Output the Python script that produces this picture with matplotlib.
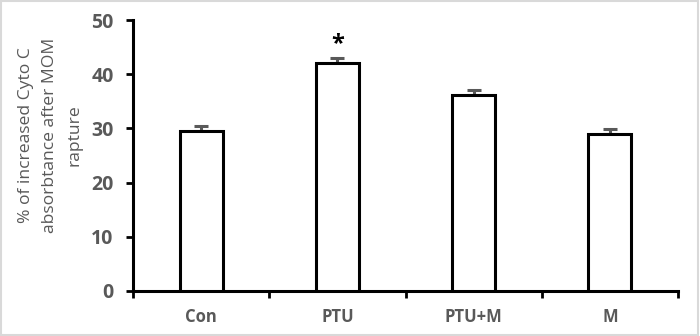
import numpy as np
import matplotlib
matplotlib.use("Agg")
import matplotlib.pyplot as plt
from matplotlib.patches import Rectangle

# =================================
# DATA
# =================================

groups = ["Con", "PTU", "PTU+M", "M"]
means = [29.5, 42.1, 36.1, 29.0]
errors = [1.0, 0.9, 0.9, 0.9]
stars = ["", "*", "", ""]

# =================================
# STYLE
# =================================

plt.rcParams["font.family"] = ["Open Sans", "DejaVu Sans"]
grey = "#595959"

fig = plt.figure(figsize=(7, 3.36), dpi=100)
ax = fig.add_axes([133 / 700, 1 - 291 / 336, 545 / 700, 271 / 336])

x = np.arange(len(groups))

ax.bar(
    x,
    means,
    width=0.315,
    color="white",
    edgecolor="black",
    linewidth=2.2,
    zorder=3
)

ax.errorbar(
    x,
    means,
    yerr=[np.zeros(len(errors)), errors],
    fmt="none",
    ecolor=grey,
    elinewidth=2.2,
    capsize=5,
    capthick=2.2,
    zorder=2
)

for i, s in enumerate(stars):
    if s:
        ax.text(
            x[i],
            45.5,
            s,
            ha="center",
            va="center",
            fontsize=17,
            fontweight="bold",
            color="black"
        )

# =================================
# AXES
# =================================

ax.set_xlim(-0.5, len(groups) - 0.5)
ax.set_ylim(0, 50)
ax.set_yticks(range(0, 51, 10))

ax.set_xticks(np.arange(-0.5, len(groups), 1.0))
ax.set_xticklabels([])
ax.set_xticks(x, minor=True)
ax.set_xticklabels(groups, minor=True)

ax.tick_params(axis="x", which="major", length=5, width=2, color="black",
               direction="out")
ax.tick_params(axis="x", which="minor", length=0, pad=12, labelsize=12,
               labelcolor=grey)
ax.tick_params(axis="y", length=5, width=2, color="black", direction="out",
               labelsize=14, labelcolor=grey, pad=9)

for lbl in ax.get_xticklabels(minor=True) + ax.get_yticklabels():
    lbl.set_fontweight("bold")

for side in ["top", "right"]:
    ax.spines[side].set_visible(False)
for side in ["left", "bottom"]:
    ax.spines[side].set_linewidth(2.2)
    ax.spines[side].set_capstyle("projecting")

fig.text(
    50 / 700,
    1 - 135 / 336,
    "% of increased Cyto C\nabsorbtance after MOM\nrapture",
    rotation=90,
    ha="center",
    va="center",
    multialignment="center",
    fontsize=12.6,
    color=grey,
    linespacing=1.7
)

# figure frame
fig.patches.append(
    Rectangle((0.002, 0.003), 0.995, 0.993, transform=fig.transFigure,
              fill=False, edgecolor="#d9d9d9", linewidth=1.5)
)

fig.savefig("out.png", dpi=100, facecolor="white")
